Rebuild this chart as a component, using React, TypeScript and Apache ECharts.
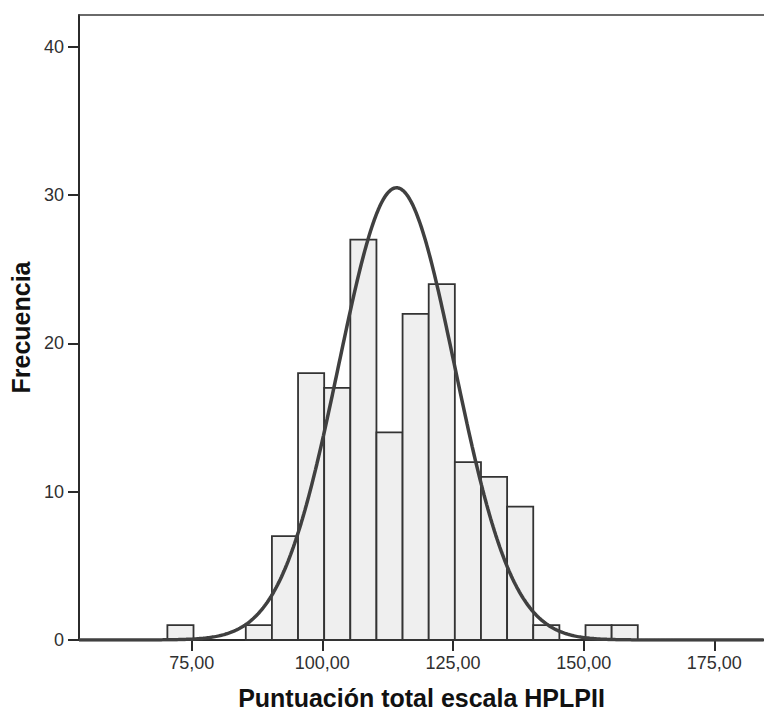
import React, { useEffect, useRef } from "react";
import * as echarts from "echarts";

// Histogram bins (lower edge, width 5) and frequencies
const binLower = [70.35, 75.35, 80.35, 85.35, 90.35, 95.35, 100.35, 105.35, 110.35, 115.35, 120.35, 125.35, 130.35, 135.35, 140.35, 145.35, 150.35, 155.35];
const binWidth = 5;
const counts = [1, 0, 0, 1, 7, 18, 17, 27, 14, 22, 24, 12, 11, 9, 1, 0, 1, 1];

// Fitted normal curve parameters
const curveMean = 114.2;
const curveSd = 11.1;
const curvePeak = 30.5;

const xTicks = [75, 100, 125, 150, 175];
const yTicks = [0, 10, 20, 30, 40];
const xMin = 53.44;
const xMax = 184.5;
const yMax = 42.15;

const xTitle = "Puntuación total escala HPLPII";
const yTitle = "Frecuencia";

export default function App() {
  const ref = useRef<HTMLDivElement>(null);
  useEffect(() => {
    if (!ref.current) return;
    const chart = echarts.init(ref.current, null, { renderer: "svg" });

    const barData = binLower.map((lo, i) => [lo, lo + binWidth, counts[i]]);
    const curve: number[][] = [];
    for (let x = xMin; x <= xMax + 0.001; x += 0.25) {
      const z = (x - curveMean) / curveSd;
      curve.push([x, curvePeak * Math.exp(-0.5 * z * z)]);
    }
    const font = "'Liberation Sans', Arial, sans-serif";
    const axisColor = "#2b2b2b";

    chart.setOption({
      animation: false,
      backgroundColor: "#ffffff",
      grid: { left: 79, right: 0, top: 15, bottom: 72, containLabel: false },
      xAxis: [
        {
          type: "value",
          min: xMin,
          max: xMax,
          splitLine: { show: false },
          axisLine: { show: true, onZero: false, lineStyle: { color: axisColor, width: 2 } },
          axisTick: { show: true, length: 11, customValues: xTicks, lineStyle: { color: axisColor, width: 2 } },
          axisLabel: {
            show: true,
            customValues: xTicks,
            margin: 14,
            fontSize: 18,
            fontFamily: font,
            color: "#303030",
            formatter: (v: number) => v.toFixed(2).replace(".", ","),
          },
          name: xTitle,
          nameLocation: "middle",
          nameGap: 45,
          nameTextStyle: { fontSize: 25, fontWeight: "bold", fontFamily: font, color: "#111" },
        },
        {
          type: "value",
          position: "top",
          min: xMin,
          max: xMax,
          splitLine: { show: false },
          axisLine: { show: true, onZero: false, lineStyle: { color: "#3a3a3a", width: 1.5 } },
          axisTick: { show: false },
          axisLabel: { show: false },
        },
      ],
      yAxis: {
        type: "value",
        min: 0,
        max: yMax,
        interval: 10,
        splitLine: { show: false },
        axisLine: { show: true, lineStyle: { color: axisColor, width: 2 } },
        axisTick: { show: true, length: 11, customValues: yTicks, lineStyle: { color: axisColor, width: 2 } },
        axisLabel: {
          customValues: yTicks,
          margin: 15,
          fontSize: 18,
          fontFamily: font,
          color: "#303030",
        },
        name: yTitle,
        nameLocation: "middle",
        nameGap: 45,
        nameRotate: 90,
        nameTextStyle: { fontSize: 25, fontWeight: "bold", fontFamily: font, color: "#111" },
      },
      series: [
        {
          type: "custom",
          data: barData,
          renderItem: (params: any, api: any) => {
            const c = api.value(2);
            if (!c) return null;
            const p0 = api.coord([api.value(0), c]);
            const p1 = api.coord([api.value(1), 0]);
            return {
              type: "rect",
              shape: { x: p0[0], y: p0[1], width: p1[0] - p0[0], height: p1[1] - p0[1] },
              style: { fill: "#efefef", stroke: "#333333", lineWidth: 1.8 },
            };
          },
          z: 2,
        },
        {
          type: "line",
          data: curve,
          showSymbol: false,
          symbol: "none",
          lineStyle: { color: "#404040", width: 3.5 },
          z: 3,
        },
      ],
    });
    return () => chart.dispose();
  }, []);
  return (
    <div
      ref={ref}
      style={{ position: "absolute", left: 0, top: 0, width: 764, height: 715 }}
    />
  );
}
